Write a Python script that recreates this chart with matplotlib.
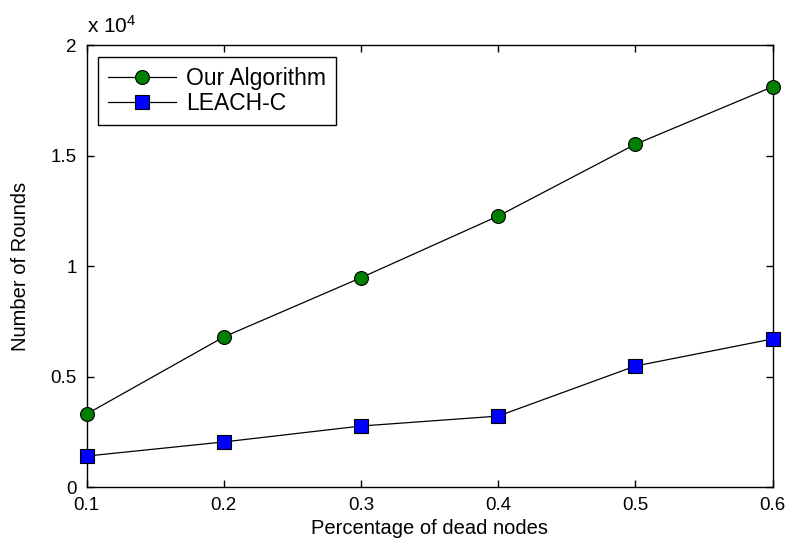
import matplotlib
matplotlib.use("Agg")
import matplotlib.pyplot as plt
from matplotlib.ticker import FixedLocator, FixedFormatter

plt.rcParams['font.family'] = ['Liberation Sans', 'DejaVu Sans']
plt.rcParams['mathtext.fontset'] = 'custom'
plt.rcParams['mathtext.rm'] = 'Liberation Sans'
plt.rcParams['mathtext.it'] = 'Liberation Sans'

x = [0.1, 0.2, 0.3, 0.4, 0.5, 0.6]
our_alg = [3300, 6790, 9470, 12260, 15510, 18110]
leach_c = [1400, 2040, 2760, 3210, 5475, 6700]

xticks = [0.1, 0.2, 0.3, 0.4, 0.5, 0.6]
xticklabels = ['0.1', '0.2', '0.3', '0.4', '0.5', '0.6']
yticks = [0, 5000, 10000, 15000, 20000]
yticklabels = ['0', '0.5', '1', '1.5', '2']

fig = plt.figure(figsize=(7.9, 5.46), dpi=100)
ax = fig.add_axes([0.1095, 0.108, 0.8684, 0.8095])

ax.plot(x, our_alg, color='black', lw=0.9, marker='o', ms=10,
        markerfacecolor='#007f00', markeredgecolor='black', markeredgewidth=0.8,
        label='Our Algorithm', clip_on=False, zorder=3)
ax.plot(x, leach_c, color='black', lw=0.9, marker='s', ms=10.5,
        markerfacecolor='#0000ff', markeredgecolor='black', markeredgewidth=0.8,
        label='LEACH-C', clip_on=False, zorder=3)

ax.set_xlim(0.1, 0.6)
ax.set_ylim(0, 20000)
ax.xaxis.set_major_locator(FixedLocator(xticks))
ax.xaxis.set_major_formatter(FixedFormatter(xticklabels))
ax.yaxis.set_major_locator(FixedLocator(yticks))
ax.yaxis.set_major_formatter(FixedFormatter(yticklabels))

ax.tick_params(direction='in', top=True, right=True, labelsize=13.5, length=5, width=1, pad=7)
for s in ax.spines.values():
    s.set_linewidth(1.0)

ax.set_xlabel('Percentage of dead nodes', fontsize=14.5, labelpad=4)
ax.set_ylabel('Number of Rounds', fontsize=14.5, labelpad=15)

ax.text(0.0, 1.027, r'x 10$^{4}$', transform=ax.transAxes, fontsize=15,
        ha='left', va='baseline')

leg = ax.legend(loc='upper left', bbox_to_anchor=(0.0168, 0.973), borderaxespad=0,
                fontsize=16.5, frameon=True, fancybox=False, edgecolor='black',
                framealpha=1, handlelength=2.97, handletextpad=0.45,
                borderpad=0.42, labelspacing=0.12)
leg.get_frame().set_linewidth(1.0)

fig.savefig('out.png', dpi=100)
